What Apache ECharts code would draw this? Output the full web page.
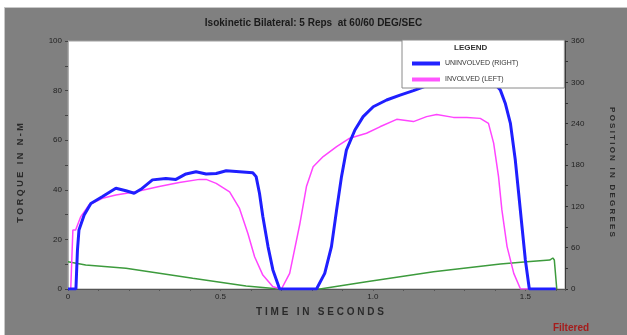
<!DOCTYPE html>
<html>
<head>
<meta charset="utf-8">
<script src="https://cdn.jsdelivr.net/npm/echarts@6/dist/echarts.min.js"></script>
<style>
  html, body { margin: 0; padding: 0; background: #fff; }
  #wrap { position: relative; width: 627px; height: 335px; background: #fff; overflow: hidden; }
  #frame { position: absolute; left: 4px; top: 7px; right: 0; bottom: 0; background: #808080;
           border-top: 1px solid #c8c8c8; border-left: 1px solid #c8c8c8; }
  #chart { position: absolute; left: 0; top: 0; width: 627px; height: 335px; }
</style>
</head>
<body>
<div id="wrap"><div id="frame"></div><div id="chart"></div></div>
<script>
// ---- data ----
const titleText = 'Isokinetic Bilateral: 5 Reps  at 60/60 DEG/SEC';
const seriesNames = ['UNINVOLVED (RIGHT)', 'INVOLVED (LEFT)', 'POSITION'];
const xTickLabels = ['0', '0.5', '1.0', '1.5'];
const leftTickLabels = ['0', '20', '40', '60', '80', '100'];
const rightTickLabels = ['0', '60', '120', '180', '240', '300', '360'];

// Uninvolved (right) torque, N-M
const blueT = [0, 0.026, 0.031, 0.036, 0.053, 0.075, 0.112, 0.157, 0.19, 0.217, 0.239, 0.277, 0.321, 0.354, 0.387, 0.42, 0.453, 0.486, 0.519, 0.5625, 0.606, 0.617, 0.628, 0.639, 0.656, 0.672, 0.694, 0.815, 0.842, 0.864, 0.881, 0.897, 0.913, 0.941, 0.968, 1.001, 1.045, 1.089, 1.133, 1.2, 1.27, 1.34, 1.39, 1.418, 1.434, 1.451, 1.467, 1.478, 1.489, 1.5, 1.513, 1.6];
const blueV = [0, 0, 15.7, 23.8, 29.8, 34.5, 37.2, 40.6, 39.6, 38.6, 40.2, 44, 44.6, 44.2, 46.4, 47.3, 46.4, 46.6, 47.7, 47.3, 46.9, 45.3, 38.6, 29.2, 17.1, 7.7, 0, 0, 6.3, 17.1, 31.9, 45.3, 56, 64.1, 69.5, 73.5, 76.2, 78.2, 80, 83, 85.5, 86, 84, 80.2, 74.9, 66.8, 52, 38.6, 25.1, 11.7, 0, 0];

// Involved (left) torque, N-M
const pinkT = [0, 0.009, 0.016, 0.025, 0.042, 0.069, 0.113, 0.157, 0.222, 0.299, 0.365, 0.431, 0.453, 0.486, 0.53, 0.5625, 0.59, 0.612, 0.639, 0.672, 0.7, 0.727, 0.76, 0.782, 0.804, 0.837, 0.881, 0.924, 0.979, 1.023, 1.078, 1.133, 1.176, 1.209, 1.264, 1.308, 1.352, 1.379, 1.396, 1.412, 1.423, 1.44, 1.462, 1.484, 1.6];
const pinkV = [0, 0, 23.8, 23.8, 29.2, 33.9, 36.6, 37.9, 39.2, 41.3, 42.9, 44.2, 44.2, 42.6, 39.2, 32.5, 22.4, 13, 5.6, 0.9, 0, 6.3, 26, 41.3, 49.3, 53.4, 57.4, 60.8, 62.8, 65.4, 68.4, 67.5, 69.5, 70.4, 69.2, 69.2, 68.8, 66.8, 58.8, 45.3, 31.9, 17.1, 6.3, 0, 0];

// Position, degrees
const greenT = [0, 0.058, 0.19, 0.409, 0.584, 0.694, 0.826, 0.979, 1.199, 1.418, 1.505, 1.58, 1.59, 1.595, 1.603];
const greenV = [39.6, 34.8, 30, 15.5, 4.4, 0, 0, 10.6, 25.1, 36.3, 39.6, 42, 45, 42, 0];

const zip = (t, v) => t.map((x, i) => [x, v[i]]);

const FONT = 'Liberation Sans';
const chart = echarts.init(document.getElementById('chart'), null, { renderer: 'canvas' });

chart.setOption({
  backgroundColor: 'transparent',
  animation: false,
  title: {
    text: titleText, left: 'center', top: 13,
    textStyle: { fontFamily: FONT, fontSize: 10, fontWeight: 'bold', color: '#1a1a1a' }
  },
  grid: {
    left: 68, top: 41, right: 62, bottom: 46,
    show: true, backgroundColor: '#ffffff', borderColor: '#a0a0a0', borderWidth: 1
  },
  legend: {
    orient: 'vertical', left: 402, top: 40, z: 20,
    padding: [20, 46, 5, 10],
    itemWidth: 28, itemHeight: 4, itemGap: 9,
    backgroundColor: '#ffffff', borderColor: '#8a8a8a', borderWidth: 1,
    data: [
      { name: seriesNames[0], icon: 'rect', itemStyle: { color: '#2222ff' } },
      { name: seriesNames[1], icon: 'rect', itemStyle: { color: '#ff55ff' } }
    ],
    textStyle: { fontFamily: FONT, fontSize: 7, color: '#333' },
    selectedMode: false
  },
  xAxis: {
    type: 'value', min: 0, max: 1.63, interval: 0.5,
    axisLine: { show: true, lineStyle: { color: '#555' } },
    axisTick: { show: true, length: 2, lineStyle: { color: '#555' } },
    minorTick: { show: true, splitNumber: 5, length: 2, lineStyle: { color: '#555' } },
    splitLine: { show: false },
    axisLabel: {
      showMaxLabel: false, margin: 4,
      fontFamily: FONT, fontSize: 8, color: '#222',
      formatter: v => { const i = Math.round(v / 0.5); return Math.abs(v - i * 0.5) < 1e-6 ? xTickLabels[i] : ''; }
    }
  },
  yAxis: [
    {
      type: 'value', min: 0, max: 100, interval: 20, position: 'left',
      axisLine: { show: true, lineStyle: { color: '#b0b0b0' } },
      axisTick: { show: true, length: 3, lineStyle: { color: '#444' } },
      minorTick: { show: true, splitNumber: 2, length: 3, lineStyle: { color: '#444' } },
      splitLine: { show: false },
      axisLabel: { margin: 6, fontFamily: FONT, fontSize: 8, color: '#222',
        formatter: v => leftTickLabels[Math.round(v / 20)] }
    },
    {
      type: 'value', min: 0, max: 360, interval: 60, position: 'right',
      axisLine: { show: true, lineStyle: { color: '#3a3a3a' } },
      axisTick: { show: true, length: 3, lineStyle: { color: '#333' } },
      minorTick: { show: true, splitNumber: 2, length: 3, lineStyle: { color: '#333' } },
      splitLine: { show: false },
      axisLabel: { margin: 6, fontFamily: FONT, fontSize: 8, color: '#222',
        formatter: v => rightTickLabels[Math.round(v / 60)] }
    }
  ],
  series: [
    {
      name: seriesNames[2], type: 'line', yAxisIndex: 1, data: zip(greenT, greenV),
      showSymbol: false, symbol: 'none', lineStyle: { color: '#3d9b3d', width: 1.5 },
      itemStyle: { color: '#3d9b3d' }, z: 2
    },
    {
      name: seriesNames[1], type: 'line', yAxisIndex: 0, data: zip(pinkT, pinkV),
      showSymbol: false, symbol: 'none', lineStyle: { color: '#ff44ff', width: 1.5 },
      itemStyle: { color: '#ff55ff' }, z: 3
    },
    {
      name: seriesNames[0], type: 'line', yAxisIndex: 0, data: zip(blueT, blueV),
      showSymbol: false, symbol: 'none', lineStyle: { color: '#1f1fff', width: 3 },
      itemStyle: { color: '#2222ff' }, z: 4
    }
  ],
  graphic: [
    { type: 'text', left: 454, top: 44, z: 100,
      style: { text: 'LEGEND', fontFamily: FONT, fontSize: 8, fontWeight: 'bold', fill: '#333' } },
    { type: 'text', x: 21, y: 173, rotation: Math.PI / 2, z: 100,
      style: { text: 'T O R Q U E   I N   N - M', fontFamily: FONT, fontSize: 9, fontWeight: 'bold',
               fill: '#2a2a2a', align: 'center', verticalAlign: 'middle' } },
    { type: 'text', x: 612, y: 172, rotation: -Math.PI / 2, z: 100,
      style: { text: 'P O S I T I O N   I N   D E G R E E S', fontFamily: FONT, fontSize: 8, fontWeight: 'bold',
               fill: '#2a2a2a', align: 'center', verticalAlign: 'middle' } },
    { type: 'text', x: 320, y: 312, z: 100,
      style: { text: 'T I M E   I N   S E C O N D S', fontFamily: FONT, fontSize: 10, fontWeight: 'bold',
               fill: '#2a2a2a', align: 'center', verticalAlign: 'middle' } },
    { type: 'text', x: 571, y: 328, z: 100,
      style: { text: 'Filtered', fontFamily: FONT, fontSize: 10, fontWeight: 'bold',
               fill: '#a51c1c', align: 'center', verticalAlign: 'middle' } }
  ]
});
</script>
</body>
</html>
